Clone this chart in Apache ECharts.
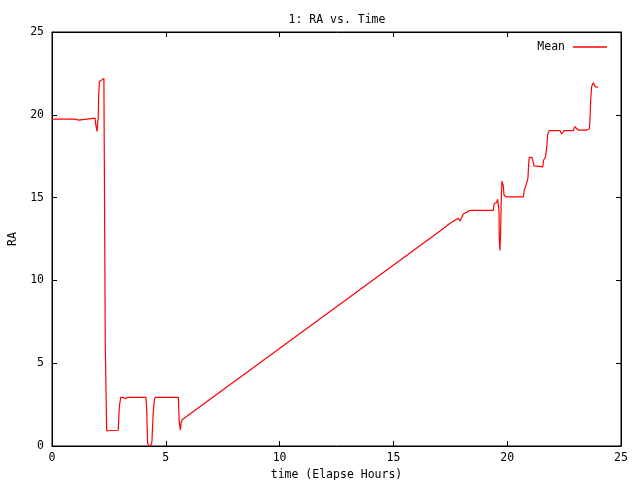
<!DOCTYPE html>
<html>
<head>
<meta charset="utf-8">
<script src="https://cdn.jsdelivr.net/npm/echarts@6/dist/echarts.min.js"></script>
<style>
  html, body { margin: 0; padding: 0; background: #fff; }
  #chart { width: 640px; height: 480px; }
</style>
</head>
<body>
<div id="chart"></div>
<script>
// elapsed hours
var hours = [
  0, 1.01, 1.05, 1.17, 1.23, 1.89, 1.93, 1.98, 2.01, 2.03, 2.05, 2.08, 2.28, 2.30, 2.34, 2.40,
  2.91, 2.96, 3.02, 3.13, 3.22, 3.31, 4.13, 4.16, 4.20, 4.25, 4.35, 4.39, 4.45, 4.50, 4.54,
  5.55, 5.59, 5.64, 5.67, 5.73, 17.05, 17.49, 17.85, 17.93, 18.07, 18.37,
  19.39, 19.43, 19.54, 19.58, 19.62, 19.64, 19.65, 19.68, 19.71, 19.74, 19.77, 19.83, 19.86, 19.95,
  20.71, 20.75, 20.81, 20.88, 20.91, 20.94, 20.97, 21.09, 21.18, 21.56, 21.60, 21.68, 21.74, 21.78, 21.85,
  22.32, 22.39, 22.50, 22.90, 22.97, 23.05, 23.12, 23.49, 23.61, 23.64, 23.67, 23.71, 23.78, 23.87, 23.98
];
// mean RA
var ra = [
  19.74, 19.74, 19.68, 19.68, 19.8, 19.8, 19.35, 19.0, 19.6, 19.75, 21.1, 22.0, 22.2, 16.9, 6.2, 0.92,
  0.95, 2.4, 2.94, 2.94, 2.85, 2.94, 2.94, 2.2, 0.18, 0.0, 0.05, 0.25, 2.1, 2.8, 2.94,
  2.94, 1.47, 0.95, 1.4, 1.6, 12.98, 13.45, 13.75, 13.59, 14.01, 14.23,
  14.23, 14.66, 14.7, 14.9, 15.02, 14.21, 12.64, 11.8, 12.88, 14.96, 16.0, 15.7, 15.16, 15.04,
  15.04, 15.46, 15.66, 15.7, 16.16, 16.95, 17.43, 17.43, 16.91, 16.85, 17.27, 17.43, 18.07, 18.84, 19.04,
  19.04, 18.84, 19.04, 19.04, 19.28, 19.28, 19.08, 19.08, 19.14, 19.79, 20.94, 21.7, 21.94, 21.7, 21.66
];
var xTicks = [0, 5, 10, 15, 20, 25];
var yTicks = [0, 5, 10, 15, 20, 25];

var font = 'DejaVu Sans Mono';
var points = hours.map(function (h, i) { return [h, ra[i]]; });

function axisBase(show) {
  return {
    type: 'value', min: xTicks[0], max: xTicks[xTicks.length - 1], interval: 5,
    axisLine: { show: true, onZero: false, lineStyle: { color: '#000', width: 1 } },
    axisTick: { show: true, inside: true, length: 5, lineStyle: { color: '#000' } },
    splitLine: { show: false },
    axisLabel: { show: show, color: '#000', fontFamily: font, fontSize: 11.5, margin: 6 }
  };
}

var xMain = axisBase(true);
xMain.name = 'time (Elapse Hours)';
xMain.nameLocation = 'middle';
xMain.nameGap = 22;
xMain.nameTextStyle = { color: '#000', fontFamily: font, fontSize: 11.5 };
var xTop = axisBase(false);
xTop.position = 'top';

var yMain = axisBase(true);
yMain.min = yTicks[0];
yMain.max = yTicks[yTicks.length - 1];
yMain.axisLabel.margin = 8;
yMain.name = 'RA';
yMain.nameLocation = 'middle';
yMain.nameRotate = 90;
yMain.nameGap = 33;
yMain.nameTextStyle = { color: '#000', fontFamily: font, fontSize: 11.5 };
var yRight = axisBase(false);
yRight.min = yTicks[0];
yRight.max = yTicks[yTicks.length - 1];
yRight.position = 'right';

var chart = echarts.init(document.getElementById('chart'));
chart.setOption({
  animation: false,
  backgroundColor: '#fff',
  title: {
    text: '1: RA vs. Time',
    left: 332, top: 9, textAlign: 'center',
    textStyle: { color: '#000', fontFamily: font, fontSize: 11.5, fontWeight: 'normal' }
  },
  legend: {
    data: ['Mean'],
    right: 28, top: 36,
    align: 'right',
    icon: 'rect',
    itemWidth: 34, itemHeight: 1.5,
    textStyle: { color: '#000', fontFamily: font, fontSize: 11.5, padding: [0, 3, 0, 0] }
  },
  grid: {
    left: 52, right: 19, top: 32, bottom: 34,
    containLabel: false, outerBoundsMode: 'none',
    show: true, borderColor: '#000', borderWidth: 1
  },
  xAxis: [xMain, xTop],
  yAxis: [yMain, yRight],
  series: [{
    name: 'Mean',
    type: 'line',
    data: points,
    showSymbol: false,
    symbol: 'none',
    color: '#ff0000',
    lineStyle: { color: '#ff0000', width: 1.2 }
  }]
});
</script>
</body>
</html>
